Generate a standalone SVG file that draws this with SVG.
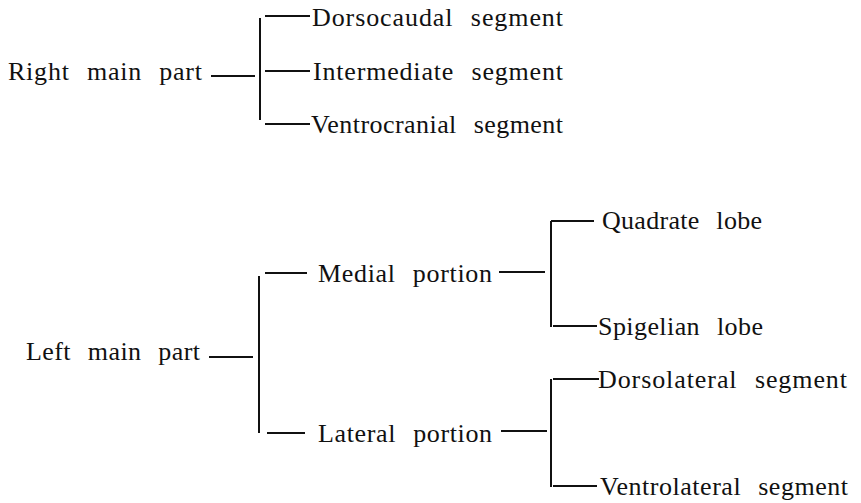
<svg xmlns="http://www.w3.org/2000/svg" width="861" height="503" viewBox="0 0 861 503">
  <style>
    .bg { fill: #ffffff; }
    .lbl { font-family: "Liberation Serif", "Times New Roman", serif; font-size: 26px; fill: #111111; word-spacing: 10px; }
    .ln { stroke: #111111; stroke-width: 2; fill: none; stroke-linecap: butt; }
  </style>
  <rect class="bg" x="0" y="0" width="861" height="503"/>

  <!-- connectors: trunk lines, brackets and branch ticks -->
  <g id="connectors">
    <!-- right main part -->
    <path class="ln" d="M211 76 H255"/>
    <path class="ln" d="M260 18 V120"/>
    <path class="ln" d="M265 16 H310 M265 71 H310 M265 124 H310"/>
    <!-- left main part -->
    <path class="ln" d="M209 357 H253"/>
    <path class="ln" d="M259 276 V433"/>
    <path class="ln" d="M265 273 H307 M267 433 H305"/>
    <!-- medial portion -->
    <path class="ln" d="M499 272 H545"/>
    <path class="ln" d="M551 221 V327"/>
    <path class="ln" d="M551 221 H594 M553 326 H597"/>
    <!-- lateral portion -->
    <path class="ln" d="M501 431 H547"/>
    <path class="ln" d="M551 379 V487"/>
    <path class="ln" d="M553 379 H599 M553 486 H597"/>
  </g>

  <g id="right-main-part"><text class="lbl" x="8" y="80" textLength="194" lengthAdjust="spacing">Right main part</text></g>
  <g id="dorsocaudal-segment"><text class="lbl" x="312" y="26" textLength="251" lengthAdjust="spacing">Dorsocaudal segment</text></g>
  <g id="intermediate-segment"><text class="lbl" x="313" y="80" textLength="250" lengthAdjust="spacing">Intermediate segment</text></g>
  <g id="ventrocranial-segment"><text class="lbl" x="311" y="133" textLength="252" lengthAdjust="spacing">Ventrocranial segment</text></g>

  <g id="left-main-part"><text class="lbl" x="26" y="360" textLength="174" lengthAdjust="spacing">Left main part</text></g>
  <g id="medial-portion"><text class="lbl" x="318" y="282" textLength="174" lengthAdjust="spacing">Medial portion</text></g>
  <g id="lateral-portion"><text class="lbl" x="318" y="442" textLength="174" lengthAdjust="spacing">Lateral portion</text></g>

  <g id="quadrate-lobe"><text class="lbl" x="602" y="229" textLength="160" lengthAdjust="spacing">Quadrate lobe</text></g>
  <g id="spigelian-lobe"><text class="lbl" x="598" y="335" textLength="165" lengthAdjust="spacing">Spigelian lobe</text></g>
  <g id="dorsolateral-segment"><text class="lbl" x="598" y="388" textLength="249" lengthAdjust="spacing">Dorsolateral segment</text></g>
  <g id="ventrolateral-segment"><text class="lbl" x="600" y="495" textLength="248" lengthAdjust="spacing">Ventrolateral segment</text></g>
</svg>
